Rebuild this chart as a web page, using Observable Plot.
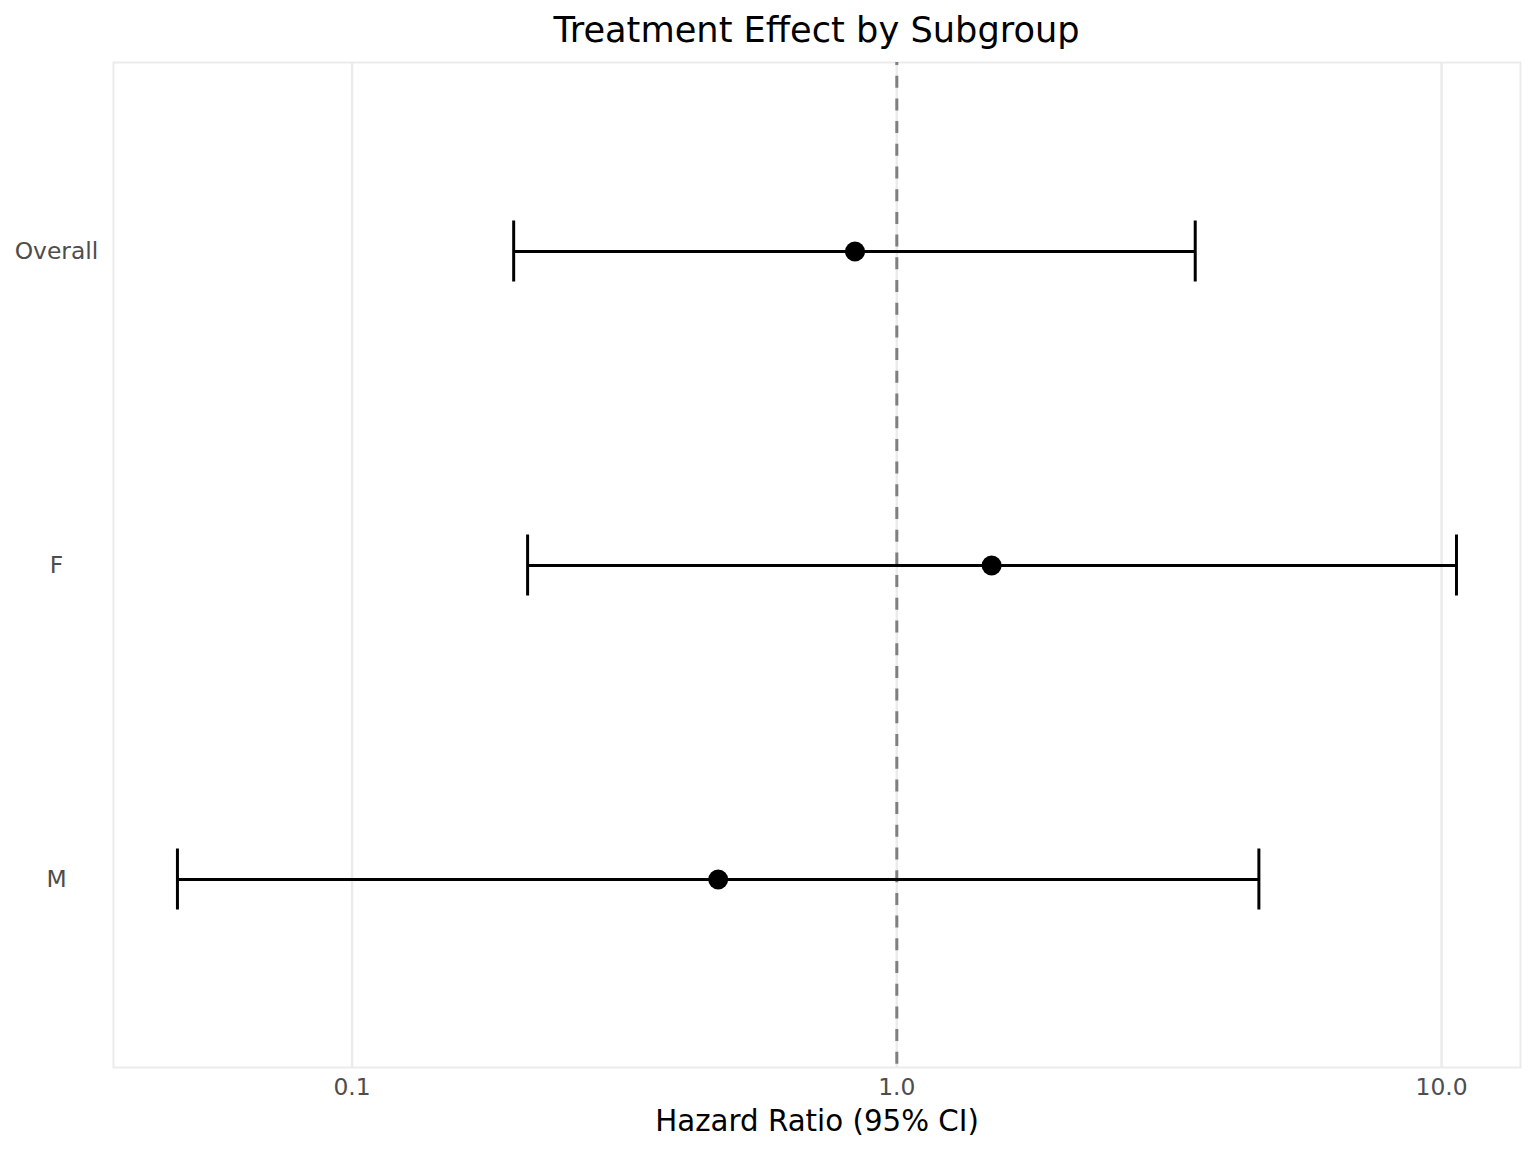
<!DOCTYPE html>
<html>
<head>
<meta charset="utf-8">
<script src="https://cdn.jsdelivr.net/npm/d3@7"></script>
<script src="https://cdn.jsdelivr.net/npm/@observablehq/plot@0.6"></script>
<style>
  html, body { margin: 0; padding: 0; background: #fff; }
  body { width: 1536px; font-family: "DejaVu Sans", sans-serif; }
  #title { box-sizing: border-box; height: 50px; padding-left: 113px; padding-right: 16px; text-align: center; font-size: 35.2px; line-height: 60px; color: #000; }
</style>
</head>
<body>
<div id="title">Treatment Effect by Subgroup</div>
<div id="chart"></div>
<script>
const subgroups = ["Overall", "F", "M"];
const hazardRatio = [0.838, 1.493, 0.470];
const lowerCI = [0.198, 0.210, 0.0478];
const upperCI = [3.53, 10.65, 4.62];
const xTicks = [0.1, 1, 10];
const referenceLine = [1];

const rows = subgroups.map((s, i) => ({subgroup: s, hr: hazardRatio[i], lo: lowerCI[i], hi: upperCI[i]}));

const plot = Plot.plot({
  width: 1536,
  height: 1102,
  marginTop: 12,
  marginBottom: 85,
  marginLeft: 113,
  marginRight: 16,
  style: {fontFamily: "DejaVu Sans, sans-serif", background: "#fff"},
  x: {type: "log", domain: [0.03648, 13.96], ticks: xTicks, tickFormat: d3.format(".1f"), label: null},
  y: {type: "point", domain: subgroups, padding: 0.6, label: null},
  marks: [
    Plot.gridX(xTicks, {stroke: "#EBEBEB", strokeOpacity: 1, strokeWidth: 2.5}),
    Plot.frame({stroke: "#EBEBEB", strokeWidth: 2}),
    Plot.ruleX(referenceLine, {stroke: "#7F7F7F", strokeWidth: 3, strokeDasharray: "12,10.7", strokeDashoffset: 9}),
    Plot.ruleY(rows, {y: "subgroup", x1: "lo", x2: "hi", stroke: "#000", strokeWidth: 3}),
    Plot.ruleX(rows, {x: "lo", y1: "subgroup", y2: "subgroup", stroke: "#000", strokeWidth: 3, insetTop: -30.5, insetBottom: -30.5}),
    Plot.ruleX(rows, {x: "hi", y1: "subgroup", y2: "subgroup", stroke: "#000", strokeWidth: 3, insetTop: -30.5, insetBottom: -30.5}),
    Plot.dot(rows, {x: "hr", y: "subgroup", r: 10, fill: "#000", stroke: null}),
    Plot.axisX({ticks: xTicks, tickFormat: d3.format(".1f"), tickSize: 0, tickPadding: 11, fontSize: 23.4, color: "#4D4D4D", label: null}),
    Plot.axisY({tickSize: 0, tickPadding: 57, textAnchor: "middle", fontSize: 23.4, color: "#4D4D4D", label: null}),
    Plot.text(["Hazard Ratio (95% CI)"], {frameAnchor: "bottom", dy: 54, fontSize: 29.3, fill: "#000", lineAnchor: "middle"})
  ]
});
document.getElementById("chart").appendChild(plot);
</script>
</body>
</html>
